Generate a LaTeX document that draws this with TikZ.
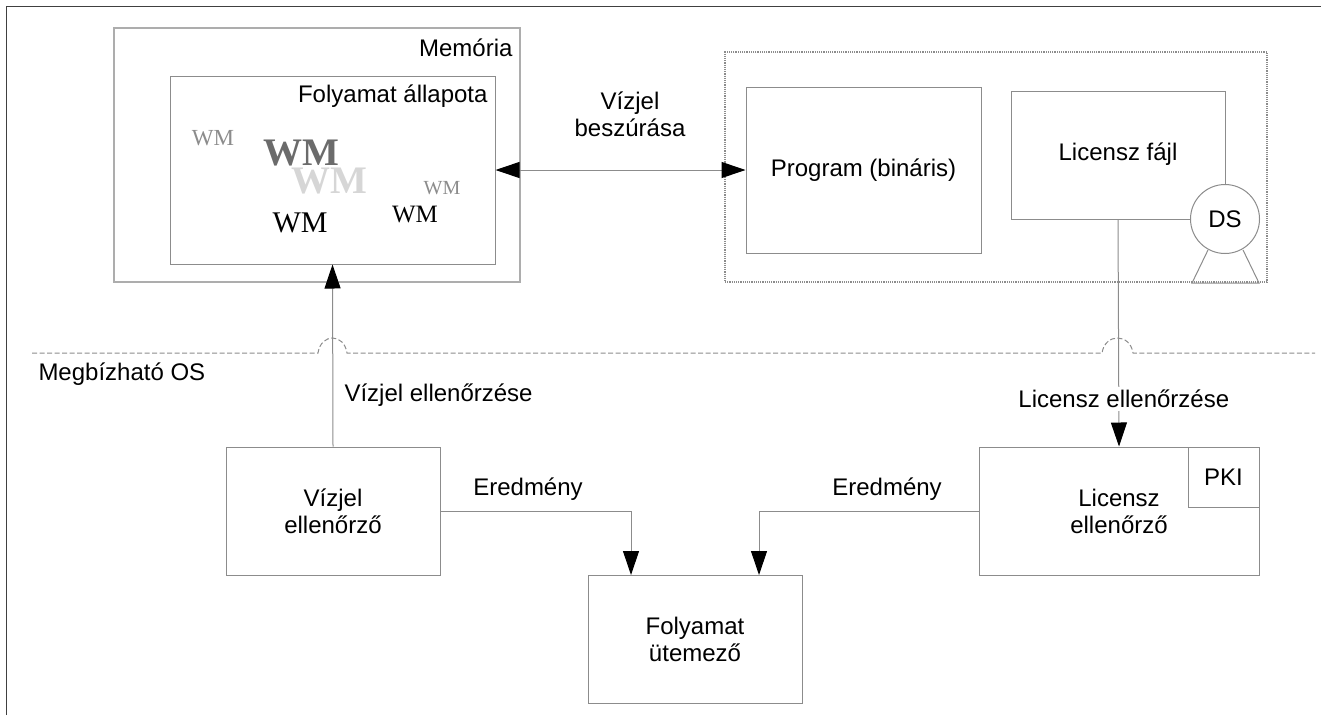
\documentclass[tikz,border=0pt]{standalone}
\usepackage{fontspec}
\setmainfont{Liberation Sans}
\newfontfamily\wmfont{Liberation Serif}
\usetikzlibrary{arrows.meta}
\definecolor{linegray}{gray}{0.55}
\definecolor{memgray}{gray}{0.68}
\definecolor{wmdark}{gray}{0.42}
\definecolor{wmlight}{gray}{0.84}
\definecolor{wmmid}{gray}{0.55}

\begin{document}
\begin{tikzpicture}
	[x=1pt, y=-1pt, >={Triangle[length=24pt,width=16pt,color=black]}, line width=1pt,
	main/.style = {draw=linegray, rectangle, inner sep=0pt, align=center, font=\fontsize{24}{27}\selectfont},
	label/.style = {inner sep=0pt, align=center, font=\fontsize{24}{27}\selectfont},
	link/.style = {draw=linegray},
	wm/.style = {inner sep=0pt, font=\wmfont\fontsize{#1}{#1}\selectfont},
	wmbold/.style = {inner sep=0pt, font=\wmfont\bfseries\fontsize{#1}{#1}\selectfont}]
	\useasboundingbox (0,0) rectangle (1321,715);
	\draw[black!75] (6,715) -- (6,6) -- (1321,6);
	\node[main, draw=memgray, line width=1.8pt, minimum width=406pt, minimum height=254pt] (memory) at (317,155) {};
	\node[main, minimum width=325pt, minimum height=188pt] (state) at (332.5,170) {};
	\node[main, densely dotted, line width=1.2pt, minimum width=542pt, minimum height=230pt] (disk) at (996,167) {};
	\node[main, minimum width=235pt, minimum height=166pt] (program) at (863.5,170) {Program (bináris)};
	\node[main, minimum width=214pt, minimum height=128pt] (file) at (1118,155) {};
	\node[main, minimum width=214pt, minimum height=128pt] (checker) at (333,511) {Vízjel\\ellenőrző};
	\node[main, minimum width=214pt, minimum height=128pt] (sched) at (695,639) {Folyamat\\ütemező};
	\node[main, minimum width=280pt, minimum height=128pt] (licheck) at (1119,511) {Licensz\\ellenőrző};
	\node[main, minimum width=71pt, minimum height=60pt] (pki) at (1223.5,477) {PKI};
	\draw[link] (1208,250) -- (1192,283) -- (1259,283) -- (1243,250);
	\node[main, circle, fill=white, minimum size=69pt] (ds) at (1225,219) {DS};
	\node[label] (memlabel) at (513,48) [anchor=east] {Memória};
	\node[label] (statelabel) at (488,96) [anchor=east] {Folyamat állapota};
	\node[label] (insert) at (630,114) {Vízjel\\beszúrása};
	\node[label] (filelabel) at (1118,154) {Licensz fájl};
	\node[label] (oslabel) at (38,374) [anchor=west] {Megbízható OS};
	\node[label] (wmcheck) at (344,395) [anchor=west] {Vízjel ellenőrzése};
	\node[label] (result1) at (528,489) {Eredmény};
	\node[label] (result2) at (887,489) {Eredmény};
	\node[wm=23, text=wmmid] (wm1) at (213,138) {WM};
	\node[wmbold=39, text=wmdark] (wm2) at (301,153) {WM};
	\node[wmbold=39, text=wmlight] (wm3) at (329,181) {WM};
	\node[wm=20, text=wmmid] (wm4) at (442,188) {WM};
	\node[wm=30, text=black] (wm5) at (300,223) {WM};
	\node[wm=25, text=black] (wm6) at (415,215) {WM};
	% dashed border with the two jumps
	\coordinate (osleft) at (32,353);
	\coordinate (osright) at (1315,353);
	\coordinate (jump1a) at (318,353);
	\coordinate (jump1b) at (347,353);
	\coordinate (jump2a) at (1102,353);
	\coordinate (jump2b) at (1133,353);
	\draw[link, dash pattern=on 5pt off 2.5pt] (osleft) -- (jump1a) .. controls (321,333) and (344,333) .. (jump1b) -- (jump2a) .. controls (1105,333) and (1130,333) .. (jump2b) -- (osright);
	\draw[link, ->] (checker.north) -- (state.south);
	\draw[link, <->] (state.east) -- (program.west);
	\draw[link, ->] (file.south) -- (licheck.north) node[pos=0.79, xshift=5pt, fill=white, label, inner ysep=3pt] (liclabel) {Licensz ellenőrzése};
	\draw[link, ->] (checker.east) -| (631,575);
	\draw[link, ->] (licheck.west) -| (759,575);
\end{tikzpicture}
\end{document}
